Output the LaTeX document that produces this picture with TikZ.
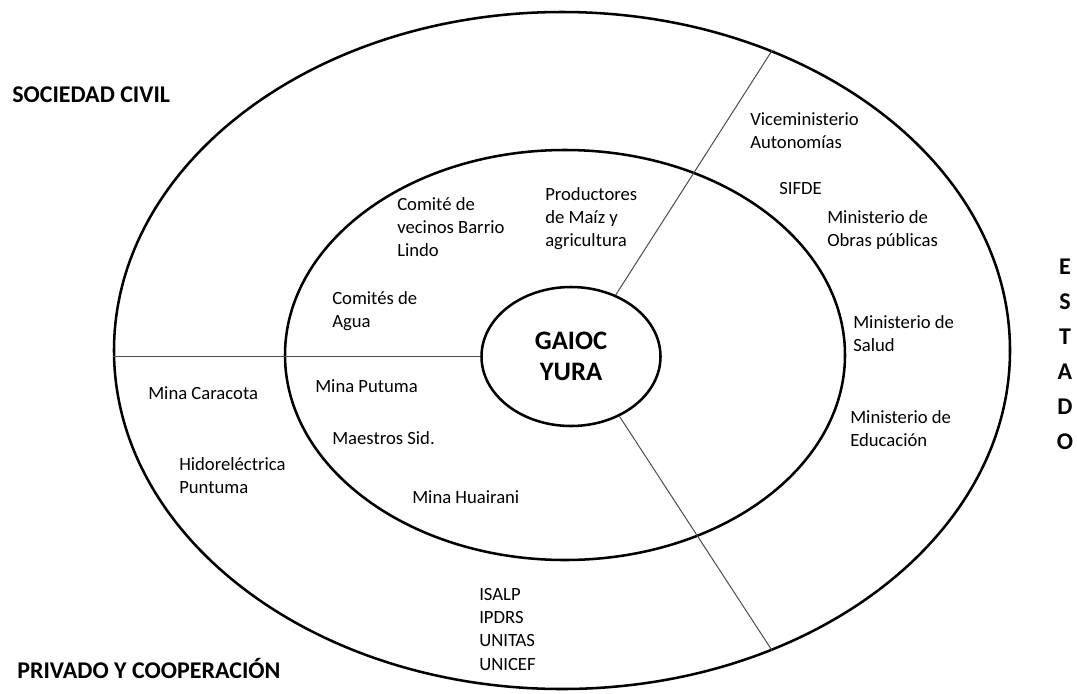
\documentclass[tikz,border=0pt]{standalone}
\usepackage{fontspec}
\setmainfont{Carlito}
\usetikzlibrary{shapes.geometric}
\begin{document}
% multi-line labels are placed by the baseline of their last line
\begin{tikzpicture}[x=0.75pt,y=-0.75pt,
  ring/.style={draw=black, line width=1.9pt, ellipse, inner sep=0pt},
  divider/.style={draw=black!70, line width=0.75pt},
  lbl/.style={anchor=base west, inner sep=0pt, align=left,
    font=\fontsize{14}{17.2}\selectfont},
  sector/.style={anchor=base west, inner sep=0pt,
    font=\fontsize{18}{22}\selectfont\bfseries}]
\useasboundingbox (0,0) rectangle (1077,693);

% concentric rings
\node[ring, minimum width=672pt, minimum height=507.75pt] (outer) at (562,350.5) {};
\node[ring, minimum width=420pt, minimum height=307.5pt] (inner) at (565,355) {};
\node[ring, minimum width=134.25pt, minimum height=104.25pt, align=center,
      font=\fontsize{20}{23}\selectfont\bfseries] (core) at (571,356.5) {GAIOC\\YURA};

% sector dividers
\draw[divider] (core.west) -- (core.west -| outer.west);
\draw[divider] (core.54) -- (outer.55);
\draw[divider] (core.-51) -- (outer.-55.5);

% sector titles
\node[sector] (soc) at (12,102) {SOCIEDAD CIVIL};
\node[sector] (priv) at (17,678) {PRIVADO Y COOPERACIÓN};
\node[anchor=base, inner sep=0pt, align=center,
      font=\fontsize{18}{26.25}\selectfont\bfseries] (estado) at (1065,449) {E\\S\\T\\A\\D\\O};

% civil society actors
\node[lbl] (comite) at (397,256) {Comité de\\vecinos Barrio\\Lindo};
\node[lbl] (agua) at (332,327) {Comités de\\Agua};
\node[lbl] (maiz) at (545,246) {Productores\\de Maíz y\\agricultura};

% state actors
\node[lbl] (vice) at (750,148) {Viceministerio\\Autonomías};
\node[lbl] (sifde) at (779,194) {SIFDE};
\node[lbl] (obras) at (827,246) {Ministerio de\\Obras públicas};
\node[lbl] (salud) at (853,351) {Ministerio de\\Salud};
\node[lbl] (educ) at (850,446) {Ministerio de\\Educación};

% private and cooperation actors
\node[lbl] (caracota) at (148,399) {Mina Caracota};
\node[lbl] (hidro) at (179,493) {Hidoreléctrica\\Puntuma};
\node[lbl] (putuma) at (315,392) {Mina Putuma};
\node[lbl] (maestros) at (332,444) {Maestros Sid.};
\node[lbl] (huairani) at (412,503) {Mina Huairani};
\node[lbl, font=\fontsize{14}{17.5}\selectfont] (ong) at (479,670) {ISALP\\IPDRS\\UNITAS\\UNICEF};
\end{tikzpicture}
\end{document}
